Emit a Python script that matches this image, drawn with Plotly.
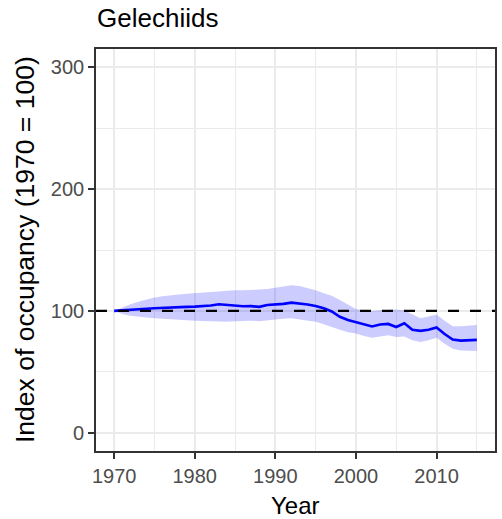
import plotly.graph_objects as go

# Occupancy index for gelechiid moths, 1970 = 100
years = list(range(1970, 2016))
index_mean = [
    100.0, 100.3, 100.8, 101.3, 101.8, 102.2, 102.6, 102.9, 103.1, 103.3,
    103.5, 103.9, 104.5, 105.5, 105.0, 104.2, 103.8, 103.9, 103.3, 104.8,
    105.2, 105.8, 106.8, 106.2, 105.2, 104.0, 102.2, 99.5, 95.2, 92.5,
    90.8, 89.0, 87.2, 88.8, 89.3, 86.8, 89.9, 84.5, 83.6, 84.5,
    86.4, 81.0, 76.5, 75.6, 76.0, 76.2,
]
index_upper = [
    100.0, 103.0, 105.5, 107.5, 109.5, 111.0, 112.0, 113.0, 113.5, 114.0,
    114.5, 115.0, 115.5, 116.5, 117.0, 117.0, 117.0, 117.0, 117.5, 118.0,
    119.0, 120.0, 121.0, 120.5, 119.0, 117.0, 114.5, 112.5, 109.0, 105.0,
    101.5, 100.5, 100.0, 100.5, 101.0, 101.2, 100.5, 97.0, 94.0, 95.5,
    97.0, 92.0, 87.5, 87.5, 88.0, 88.5,
]
index_lower = [
    100.0, 97.5, 96.0, 95.0, 94.5, 94.0, 93.5, 93.0, 92.5, 92.3,
    92.0, 91.8, 91.5, 91.2, 91.0, 91.5, 91.8, 92.0, 91.5, 92.5,
    93.0, 93.5, 94.0, 93.0, 92.0, 91.0, 89.0, 86.5, 84.5, 82.5,
    81.5, 79.5, 78.0, 79.0, 80.0, 78.5, 79.0, 76.0, 74.5, 76.0,
    78.0, 73.0, 69.0, 67.5, 67.0, 67.0,
]
baseline = 100
x_ticks = [1970, 1980, 1990, 2000, 2010]
y_ticks = [0, 100, 200, 300]

FONT = "Liberation Sans, Arial, Helvetica, sans-serif"
GRID = "#EBEBEB"
BORDER = "#333333"

fig = go.Figure()

# confidence ribbon
fig.add_trace(go.Scatter(
    x=years, y=index_lower, mode="lines", line=dict(width=0),
    hoverinfo="skip", showlegend=False,
))
fig.add_trace(go.Scatter(
    x=years, y=index_upper, mode="lines", line=dict(width=0),
    fill="tonexty", fillcolor="rgba(0,0,255,0.2)",
    hoverinfo="skip", showlegend=False,
))
# mean index
fig.add_trace(go.Scatter(
    x=years, y=index_mean, mode="lines",
    line=dict(color="#0000FF", width=2.6), showlegend=False,
))

# reference level
fig.add_hline(y=baseline, line=dict(color="black", width=2.4, dash="11px,11px"))

axis_common = dict(
    showgrid=True, gridcolor=GRID, gridwidth=1.8,
    zeroline=False,
    showline=True, linecolor=BORDER, linewidth=1.6, mirror=True,
    ticks="outside", ticklen=6, tickwidth=1.6, tickcolor=BORDER,
    tickfont=dict(family=FONT, size=20, color="#4D4D4D"),
)

fig.update_xaxes(
    range=[1967.75, 2017.25], tickvals=x_ticks,
    minor=dict(dtick=5, tick0=1965, showgrid=True, gridcolor=GRID, gridwidth=0.9, ticks=""),
    **axis_common,
)
fig.update_yaxes(
    range=[-15, 315], tickvals=y_ticks,
    minor=dict(dtick=50, tick0=50, showgrid=True, gridcolor=GRID, gridwidth=0.9, ticks=""),
    **axis_common,
)

fig.update_layout(
    width=502, height=519,
    margin=dict(l=96, r=5, t=49, b=68),
    paper_bgcolor="white", plot_bgcolor="white",
    font=dict(family=FONT),
    annotations=[
        dict(text="Gelechiids", xref="paper", yref="paper", x=0, y=1,
             xanchor="left", yanchor="bottom", yshift=14, xshift=-1, showarrow=False,
             font=dict(family=FONT, size=26, color="black")),
        dict(text="Year", xref="paper", yref="paper", x=0.5, y=0,
             xanchor="center", yanchor="top", yshift=-39, showarrow=False,
             font=dict(family=FONT, size=24, color="black")),
        dict(text="Index of occupancy (1970 = 100)", xref="paper", yref="paper",
             x=0, y=0.5, xanchor="center", yanchor="middle", xshift=-71,
             textangle=-90, showarrow=False,
             font=dict(family=FONT, size=26.5, color="black")),
    ],
)

fig.write_html("out.html")
